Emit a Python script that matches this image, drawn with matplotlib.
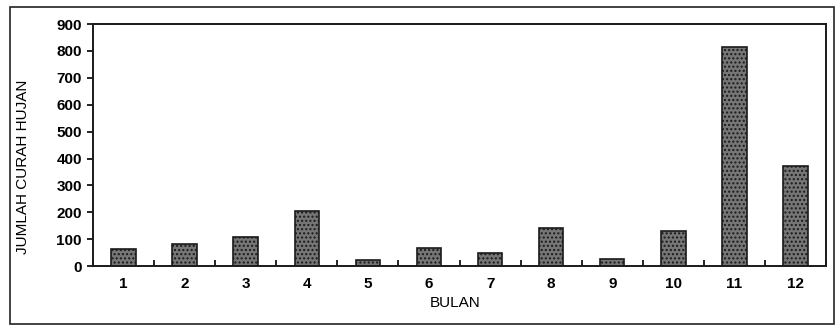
import numpy as np
import matplotlib.pyplot as plt
from matplotlib.patches import Rectangle

plt.rcParams['font.family'] = ['Liberation Sans', 'DejaVu Sans']

bulan = ['1', '2', '3', '4', '5', '6', '7', '8', '9', '10', '11', '12']
curah_hujan = [63, 82, 110, 205, 22, 68, 48, 140, 28, 130, 815, 372]

fig = plt.figure(figsize=(8.37, 3.29), dpi=100)
ax = fig.add_axes([0.111, 0.191, 0.876, 0.736])

x = np.arange(1, len(bulan) + 1)
ax.bar(x, curah_hujan, width=0.4, color='#767676', edgecolor='#1a1a1a',
       hatch='....', linewidth=1.2)

ax.set_xlim(0.5, 12.5)
ax.set_ylim(0, 900)
ax.set_yticks(range(0, 901, 100))
ax.set_xticks(x)
ax.set_xticklabels(bulan)
ax.set_xticks(np.arange(0.5, 13, 1), minor=True)
ax.tick_params(axis='x', which='major', length=0, pad=8)
ax.tick_params(axis='x', which='minor', length=4, width=1.2, direction='in')
ax.tick_params(axis='y', length=4, width=1.2, direction='out', pad=4)
ax.tick_params(labelsize=11)
for lbl in ax.get_xticklabels() + ax.get_yticklabels():
    lbl.set_fontweight('bold')

for s in ax.spines.values():
    s.set_linewidth(1.4)
    s.set_color('#1a1a1a')

ax.set_xlabel('BULAN', fontsize=11)
ax.xaxis.set_label_coords(0.494, -0.125)
ax.set_ylabel('JUMLAH CURAH HUJAN', fontsize=11)
ax.yaxis.set_label_coords(-0.086, 0.41)

fig.patches.append(Rectangle((0.012, 0.015), 0.985, 0.965, transform=fig.transFigure,
                             fill=False, edgecolor='#222222', linewidth=1.2))

fig.savefig('out.png', dpi=100)
